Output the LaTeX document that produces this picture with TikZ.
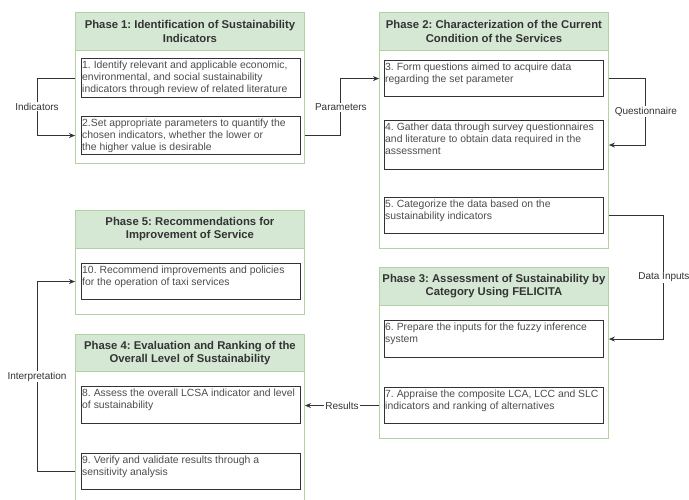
\documentclass[tikz,border=0pt]{standalone}
\usepackage{fontspec}
\setmainfont{Liberation Sans}
\usetikzlibrary{arrows.meta,positioning}
\definecolor{Leaf}{HTML}{82B366}
\definecolor{LeafFill}{HTML}{D5E8D4}
\definecolor{Ink}{HTML}{333333}
\definecolor{Body}{HTML}{4D4D4D}
\frenchspacing

\begin{document}
\begin{tikzpicture}[x=1pt, y=-1pt,
    phase/.style={draw=Leaf!60, fill=white, line width=0.9pt, anchor=north west,
                  minimum width=229pt, inner sep=0pt},
    phasehd/.style={draw=Leaf!60, fill=LeafFill, line width=0.9pt, anchor=north west,
                    minimum width=229pt, minimum height=38pt, inner sep=0pt, align=center,
                    font=\fontsize{11.3}{13.2}\selectfont\bfseries, text=Ink},
    task/.style={draw=Ink, line width=1.1pt, anchor=north west, minimum width=219pt, inner sep=0pt},
    tasktxt/.style={anchor=north west, align=left, inner xsep=1pt, inner ysep=2.5pt,
                    font=\fontsize{10.4}{12}\selectfont, text=Body},
    conn/.style={draw=Ink, line width=0.9pt, -{Stealth[length=6pt, width=5pt]}},
    lbl/.style={fill=white, inner sep=1pt, font=\fontsize{10}{11}\selectfont, text=Ink}]
  \useasboundingbox (0,0) rectangle (689,500);

  % phase containers
  \node[phase, minimum height=151pt] (p1) at (75,12)  {};
  \node[phase, minimum height=236pt] (p2) at (379,12) {};
  \node[phase, minimum height=171pt] (p3) at (379,267){};
  \node[phase, minimum height=104pt] (p5) at (75,210) {};
  \node[phase, minimum height=190pt] (p4) at (75,334) {};
  \node[phasehd] (h1) at (p1.north west) {Phase 1: Identification of Sustainability\\Indicators};
  \node[phasehd] (h2) at (p2.north west) {Phase 2: Characterization of the Current\\Condition of the Services};
  \node[phasehd] (h3) at (p3.north west) {Phase 3: Assessment of Sustainability by\\Category Using FELICITA};
  \node[phasehd] (h5) at (p5.north west) {Phase 5: Recommendations for\\Improvement of Service};
  \node[phasehd, minimum height=37pt] (h4) at (p4.north west) {Phase 4: Evaluation and Ranking of the\\Overall Level of Sustainability};

  % steps
  \node[task, minimum height=39pt] (b1)  at (81,58)   {};
  \node[task, minimum height=38pt] (b2)  at (81,116)  {};
  \node[task, minimum height=36pt] (b3)  at (384,60)  {};
  \node[task, minimum height=49pt] (b4)  at (384,120) {};
  \node[task, minimum height=36pt] (b5)  at (384,197) {};
  \node[task, minimum height=37pt] (b6)  at (384,320) {};
  \node[task, minimum height=36pt] (b7)  at (384,387) {};
  \node[task, minimum height=36pt] (b10) at (81,263)  {};
  \node[task, minimum height=37pt] (b8)  at (81,386)  {};
  \node[task, minimum height=36pt] (b9)  at (81,453)  {};
  \node[tasktxt] (t1)  at (b1.north west)  {1. Identify relevant and applicable economic,\\environmental, and social sustainability\\indicators through review of related literature};
  \node[tasktxt] (t2)  at (b2.north west)  {2.Set appropriate parameters to quantify the\\chosen indicators, whether the lower or\\the higher value is desirable};
  \node[tasktxt] (t3)  at (b3.north west)  {3. Form questions aimed to acquire data\\regarding the set parameter};
  \node[tasktxt] (t4)  at (b4.north west)  {4. Gather data through survey questionnaires\\and literature to obtain data required in the\\assessment};
  \node[tasktxt] (t5)  at (b5.north west)  {5. Categorize the data based on the\\sustainability indicators};
  \node[tasktxt] (t6)  at (b6.north west)  {6. Prepare the inputs for the fuzzy inference\\system};
  \node[tasktxt] (t7)  at (b7.north west)  {7. Appraise the composite LCA, LCC and SLC\\indicators and ranking of alternatives};
  \node[tasktxt] (t10) at (b10.north west) {10. Recommend improvements and policies\\for the operation of taxi services};
  \node[tasktxt] (t8)  at (b8.north west)  {8. Assess the overall LCSA indicator and level\\of sustainability};
  \node[tasktxt] (t9)  at (b9.north west)  {9. Verify and validate results through a\\sensitivity analysis};

  % flows between phases
  \draw[conn] (p1.west |- b1.west) -- ++(-38,0) |- node[lbl, pos=0.25] (lind) {Indicators} (p1.west |- b2.west);
  \draw[conn] (p1.east |- b2.east) -- ++(36,0) |- node[lbl, pos=0.25] (lpar) {Parameters} (p2.west |- b3.west);
  \draw[conn] (p2.east |- b3.east) -- ++(37,0) |- node[lbl, pos=0.25] (lque) {Questionnaire} (p2.east |- b4.east);
  \draw[conn] (p2.east |- b5.east) -- ++(55,0) |- node[lbl, pos=0.25] (ldat) {Data Inputs} (p3.east |- b6.east);
  \draw[conn] (p3.west |- b7.west) -- node[lbl] (lres) {Results} (p4.east |- b7.west);
  \draw[conn] (p4.west |- b9.west) -- ++(-38,0) |- node[lbl, pos=0.25] (lint) {Interpretation} (p5.west |- b10.west);
\end{tikzpicture}
\end{document}
